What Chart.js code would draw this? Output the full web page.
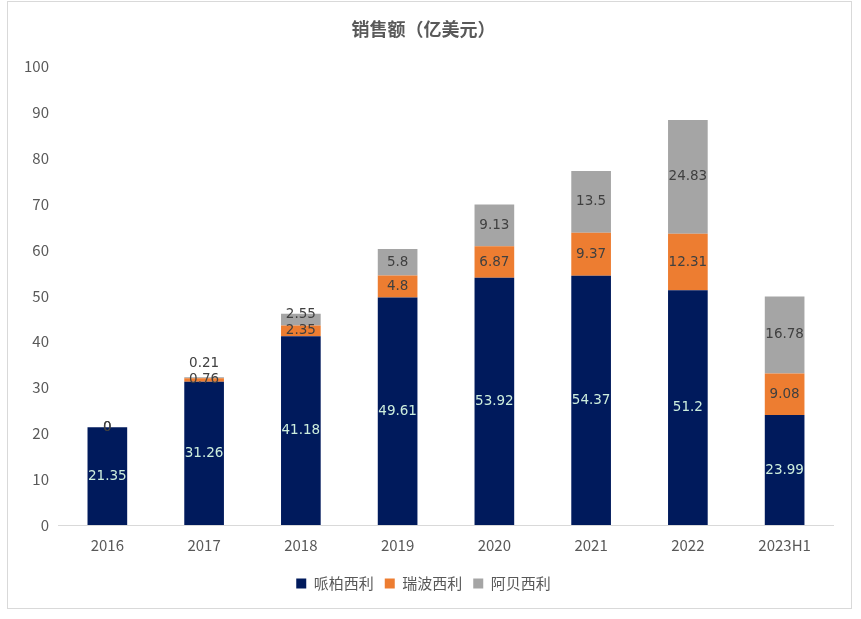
<!DOCTYPE html>
<html>
<head>
<meta charset="utf-8">
<script src="https://cdn.jsdelivr.net/npm/chart.js@4.4.0/dist/chart.umd.min.js"></script>
<style>
  html, body { margin: 0; padding: 0; background: #fff; }
  #frame { position: absolute; left: 7px; top: 1px; width: 845px; height: 608px; border: 1px solid #d9d9d9; box-sizing: border-box; }
  #wrap { position: absolute; left: 0; top: 0; width: 861px; height: 619px; }
</style>
</head>
<body>
<div id="frame"></div>
<div id="wrap"><canvas id="salesChart"></canvas></div>
<script>
const years = ['2016', '2017', '2018', '2019', '2020', '2021', '2022', '2023H1'];
const pfizer = [21.35, 31.26, 41.18, 49.61, 53.92, 54.37, 51.2, 23.99];
const hengrui = [0, 0.76, 2.35, 4.8, 6.87, 9.37, 12.31, 9.08];
const abbvie = [0, 0.21, 2.55, 5.8, 9.13, 13.5, 24.83, 16.78];
const yTicks = [0, 10, 20, 30, 40, 50, 60, 70, 80, 90, 100];

const font = '"Noto Sans CJK SC", "Noto Sans", sans-serif';
const labelColors = ['#cdeedd', '#404040', '#404040'];

// draw segment values; a thin top segment goes above the bar
const valueLabels = {
    id: 'valueLabels',
    afterDatasetsDraw(chart) {
        const ctx = chart.ctx;
        ctx.save();
        ctx.font = '13.5px "DejaVu Sans", sans-serif';
        ctx.textAlign = 'center';
        ctx.textBaseline = 'middle';
        chart.data.datasets.forEach(function(ds, di) {
            const meta = chart.getDatasetMeta(di);
            meta.data.forEach(function(bar, i) {
                const v = ds.data[i];
                const h = bar.base - bar.y;
                let y = bar.y + h / 2;
                if (di === 2 && v > 0 && h < 8) y = bar.y - 14;
                else if (di === 2 && v > 0 && h < 14) y -= 5;
                ctx.fillStyle = labelColors[di];
                ctx.fillText(String(v), bar.x, y);
            });
        });
        ctx.restore();
    }
};

new Chart(document.getElementById('salesChart'), {
    type: 'bar',
    data: {
        labels: years,
        datasets: [
            { label: '哌柏西利', data: pfizer, backgroundColor: '#001a5c' },
            { label: '瑞波西利', data: hengrui, backgroundColor: '#ed7d31' },
            { label: '阿贝西利', data: abbvie, backgroundColor: '#a5a5a5' }
        ]
    },
    options: {
        responsive: true,
        maintainAspectRatio: false,
        animation: false,
        layout: { padding: { left: 14, right: 28, top: 8, bottom: 18 } },
        datasets: { bar: { categoryPercentage: 1, barPercentage: 0.41 } },
        scales: {
            x: {
                stacked: true,
                grid: { display: false, drawTicks: false },
                border: { color: '#d9d9d9' },
                ticks: { color: '#595959', font: { family: font, size: 15 }, padding: 11 }
            },
            y: {
                stacked: true,
                min: 0,
                max: 100,
                afterBuildTicks(axis) { axis.ticks = yTicks.map(v => ({ value: v })); },
                grid: { display: false, drawTicks: false },
                border: { display: false },
                ticks: { color: '#595959', font: { family: font, size: 15 }, padding: 10 }
            }
        },
        plugins: {
            title: {
                display: true,
                text: '销售额（亿美元）',
                color: '#595959',
                font: { family: font, size: 18, weight: 'bold' },
                padding: { top: 10, bottom: 27 }
            },
            legend: {
                position: 'bottom',
                labels: {
                    color: '#595959',
                    font: { family: font, size: 15 },
                    boxWidth: 10,
                    boxHeight: 10,
                    padding: 11
                }
            },
            tooltip: { enabled: false }
        }
    },
    plugins: [valueLabels]
});
</script>
</body>
</html>
